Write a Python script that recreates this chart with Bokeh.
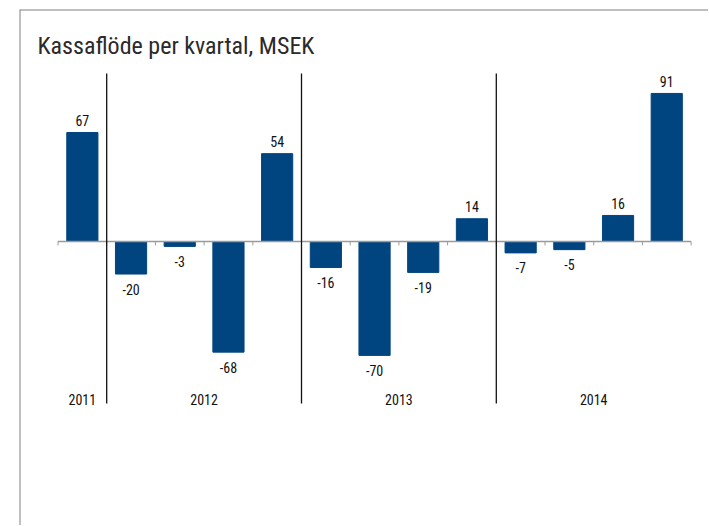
from bokeh.plotting import figure
from bokeh.models import ColumnDataSource, Range1d, Span
from bokeh.core.properties import value
from bokeh.embed import file_html
from bokeh.resources import INLINE

# ---- data ----
quarters = ["Q4 2011", "Q1 2012", "Q2 2012", "Q3 2012", "Q4 2012",
            "Q1 2013", "Q2 2013", "Q3 2013", "Q4 2013",
            "Q1 2014", "Q2 2014", "Q3 2014", "Q4 2014"]
values = [67, -20, -3, -68, 54, -16, -70, -19, 14, -7, -5, 16, 91]
years = ["2011", "2012", "2013", "2014"]
quarters_per_year = [1, 4, 4, 4]
title_text = "Kassaflöde per kvartal, MSEK"

FONT = "Roboto Condensed"
BAR = "#00457F"

W, H = 708, 525
BL, BT = 19, 9            # frame offset in pixels
X0_PX, CAT_PX = 57.5, 48.7
Y0_PX, UNIT_PX = 241.0, 1.627

x_start = (BL - X0_PX) / CAT_PX
x_end = (W - X0_PX) / CAT_PX
y_end = (Y0_PX - BT) / UNIT_PX
y_start = -(H - Y0_PX) / UNIT_PX

n = len(values)
x_centers = [i + 0.5 for i in range(n)]

bounds = [0]
for c in quarters_per_year:
    bounds.append(bounds[-1] + c)
year_centers = [(bounds[i] + bounds[i + 1]) / 2 for i in range(len(years))]
separators = bounds[1:-1]

p = figure(width=W, height=H, output_backend="svg", toolbar_location=None,
           x_axis_location=None, y_axis_location=None,
           x_range=Range1d(x_start, x_end), y_range=Range1d(y_start, y_end),
           min_border_left=BL, min_border_top=BT, min_border_right=0,
           min_border_bottom=0)
p.grid.visible = False
p.outline_line_color = None
p.background_fill_color = "white"
p.border_fill_color = "white"

# frame lines (left and top)
p.add_layout(Span(location=x_start, dimension="height", line_color="#808080", line_width=2))
p.add_layout(Span(location=y_end, dimension="width", line_color="#808080", line_width=2))

# bars
src = ColumnDataSource(dict(x=x_centers, top=values))
p.vbar(x="x", top="top", bottom=0, width=0.64, source=src,
       fill_color=BAR, line_color=BAR)

# zero line and ticks
p.segment(x0=[0], y0=[0], x1=[n], y1=[0], line_color="#9a9a9a", line_width=1.5)
p.segment(x0=list(range(n + 1)), y0=[0] * (n + 1), x1=list(range(n + 1)),
          y1=[-2.4] * (n + 1), line_color="#9a9a9a", line_width=1)

# year separators
p.segment(x0=separators, y0=[103.3] * len(separators), x1=separators,
          y1=[-99.5] * len(separators), line_color="#111111", line_width=1.3)

# value labels
pos = ColumnDataSource(dict(x=[x for x, v in zip(x_centers, values) if v >= 0],
                            y=[v for v in values if v >= 0],
                            t=[str(v) for v in values if v >= 0]))
neg = ColumnDataSource(dict(x=[x for x, v in zip(x_centers, values) if v < 0],
                            y=[v for v in values if v < 0],
                            t=[str(v) for v in values if v < 0]))
p.text(x="x", y="y", text="t", source=pos, text_align="center",
       text_baseline="middle", y_offset=-12, text_font=value(FONT),
       text_font_size="14px", text_color="#111111")
p.text(x="x", y="y", text="t", source=neg, text_align="center",
       text_baseline="middle", y_offset=15, text_font=value(FONT),
       text_font_size="14px", text_color="#111111")

# year labels
p.text(x=year_centers, y=[-97.4] * len(years), text=years, text_align="center",
       text_baseline="middle", text_font=value(FONT), text_font_size="14px",
       text_color="#111111")

# title
p.text(x=[x_start], y=[y_end], text=[title_text], x_offset=18, y_offset=36,
       text_align="left", text_baseline="middle", text_font=value(FONT),
       text_font_size="24px", text_color="#2a2a2a")

open("out.html", "w").write(file_html(p, INLINE))
